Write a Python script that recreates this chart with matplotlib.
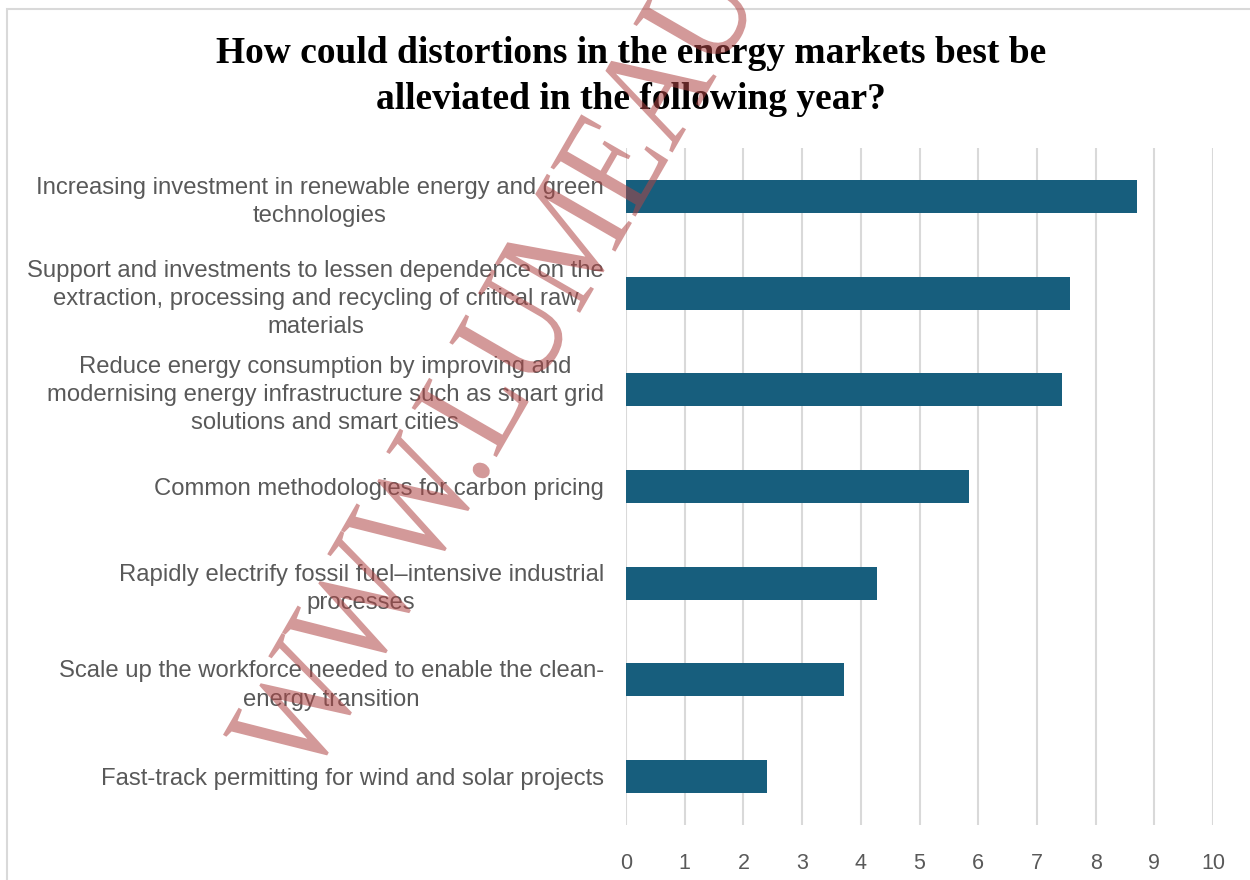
import matplotlib
matplotlib.use("Agg")
import matplotlib.pyplot as plt
from matplotlib.patches import Rectangle, PathPatch
from matplotlib.textpath import TextPath
from matplotlib.font_manager import FontProperties
from matplotlib.transforms import Affine2D, IdentityTransform

categories = [
    "Increasing investment in renewable energy and green\ntechnologies",
    "Support and investments to lessen dependence on the\nextraction, processing and recycling of critical raw\nmaterials",
    "Reduce energy consumption by improving and\nmodernising energy infrastructure such as smart grid\nsolutions and smart cities",
    "Common methodologies for carbon pricing",
    "Rapidly electrify fossil fuel\u2013intensive industrial\nprocesses",
    "Scale up the workforce needed to enable the clean-\nenergy transition",
    "Fast-track permitting for wind and solar projects",
]
values = [8.71, 7.56, 7.42, 5.85, 4.28, 3.71, 2.41]
xticks = list(range(0, 11))
title = "How could distortions in the energy markets best be\nalleviated in the following year?"
watermark = "WWW.LUMEAU"

W, H = 1250, 880
fig = plt.figure(figsize=(W / 100, H / 100), dpi=100)
fig.patch.set_facecolor("white")

# outer chart border
fig.patches.append(Rectangle((7 / W, -0.1), 1.2, 1 - 9 / H + 0.1, transform=fig.transFigure,
                             fill=False, edgecolor="#d9d9d9", linewidth=1.5))

ax = fig.add_axes([626 / W, 1 - 825 / H, (1213 - 626) / W, (825 - 148) / H])
ypos = list(range(len(categories)))
ax.barh(ypos, values, height=0.34, color="#175E7D", zorder=3)
ax.set_ylim(len(categories) - 0.5, -0.5)
ax.set_xlim(0, 10)
ax.set_xticks(xticks)
ax.set_xticklabels([str(t) for t in xticks])
ax.set_yticks(ypos)
ax.set_yticklabels(categories, multialignment="center", linespacing=1.36)
for s in ax.spines.values():
    s.set_visible(False)
ax.grid(axis="x", color="#d9d9d9", linewidth=1.5, zorder=0)
ax.tick_params(axis="both", length=0, labelcolor="#595959")
ax.tick_params(axis="y", pad=16, labelsize=17.2)
ax.tick_params(axis="x", pad=20, labelsize=15.5)
for lab in ax.get_yticklabels() + ax.get_xticklabels():
    lab.set_fontfamily("Liberation Sans")
ax.set_facecolor("none")

fig.text(0.505, 1 - 76.5 / H, title, ha="center", va="center", fontsize=27,
         fontweight="bold", family="Liberation Serif", color="black", linespacing=1.4)

# watermark: tall, narrow serif letters rotated along the diagonal
tp = TextPath((0, 0), watermark, size=1, prop=FontProperties(family="Liberation Serif"))
tr = Affine2D().scale(125, 150).rotate_deg(60).translate(308, H - 784)
wm = PathPatch(tr.transform_path(tp), transform=IdentityTransform(),
               facecolor="#b04545", edgecolor="none", alpha=0.55, zorder=10)
fig.add_artist(wm)

fig.savefig("out.png", dpi=100)
